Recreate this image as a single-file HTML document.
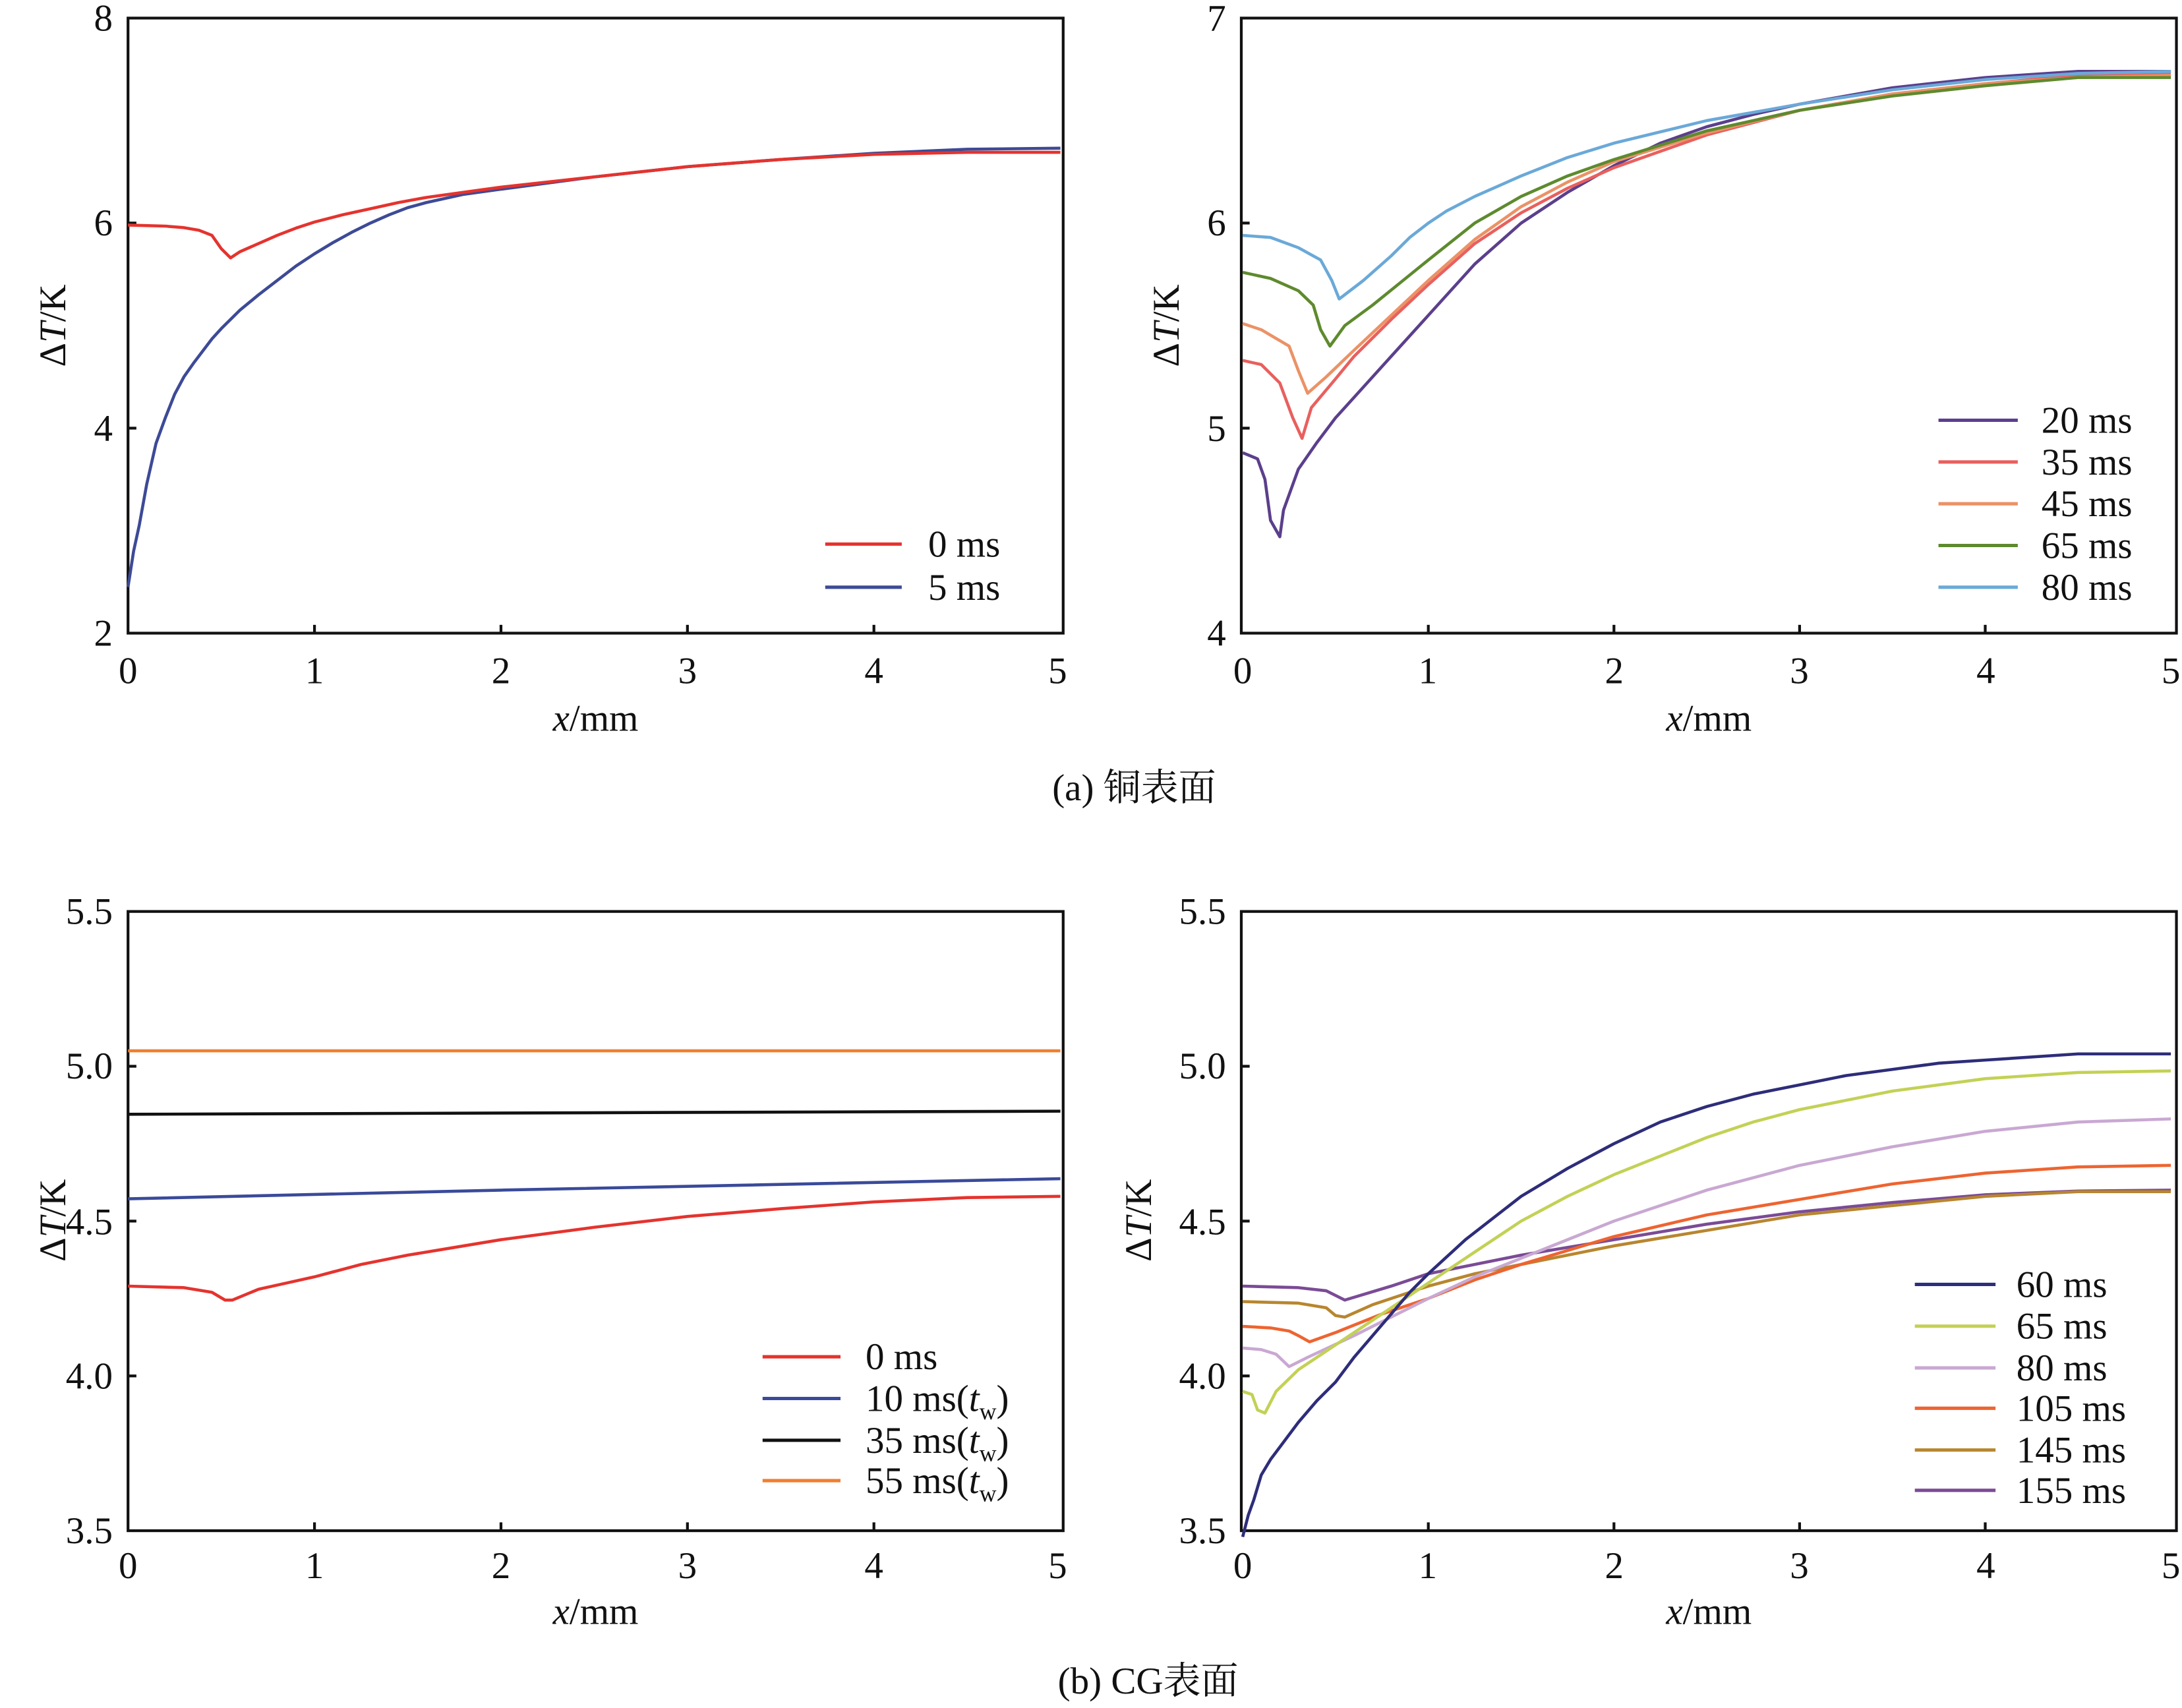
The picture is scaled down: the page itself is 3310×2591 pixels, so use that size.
<!DOCTYPE html>
<html><head><meta charset="utf-8"><style>
html,body{margin:0;padding:0;background:#fff;}
svg{display:block;}
text{font-family:"Liberation Serif","Noto Serif CJK SC","Noto Sans CJK SC",serif;fill:#111;}
.c{fill:none;stroke-width:4.6;vector-effect:non-scaling-stroke;stroke-linejoin:round;}
</style></head><body>
<svg width="3310" height="2591" viewBox="0 0 1568 1227.4" xmlns="http://www.w3.org/2000/svg">
<rect width="1568" height="1227.4" fill="#fff"/>
<g stroke="#111" stroke-width="2" fill="none">
<rect x="92" y="13" width="672" height="442"/>
<rect x="892" y="13" width="672" height="442"/>
<rect x="92" y="655" width="672" height="445"/>
<rect x="892" y="655" width="672" height="445"/>
<path d="M226 455v-6M360 455v-6M494 455v-6M628 455v-6M92 160.3h6M92 307.7h6"/>
<path d="M1026.4 455v-6M1159.8 455v-6M1293.2 455v-6M1426.6 455v-6M892 307.7h6M892 160.3h6"/>
<path d="M226 1100v-6M360 1100v-6M494 1100v-6M628 1100v-6M92 766.25h6M92 877.5h6M92 988.75h6"/>
<path d="M1026.4 1100v-6M1159.8 1100v-6M1293.2 1100v-6M1426.6 1100v-6M892 766.25h6M892 877.5h6M892 988.75h6"/>
</g>
<g font-size="27" text-anchor="middle">
<text x="92" y="491">0</text><text x="226" y="491">1</text><text x="360" y="491">2</text><text x="494" y="491">3</text><text x="628" y="491">4</text><text x="760" y="491">5</text>
<text x="893" y="491">0</text><text x="1026" y="491">1</text><text x="1160" y="491">2</text><text x="1293" y="491">3</text><text x="1427" y="491">4</text><text x="1560" y="491">5</text>
<text x="92" y="1134">0</text><text x="226" y="1134">1</text><text x="360" y="1134">2</text><text x="494" y="1134">3</text><text x="628" y="1134">4</text><text x="760" y="1134">5</text>
<text x="893" y="1134">0</text><text x="1026" y="1134">1</text><text x="1160" y="1134">2</text><text x="1293" y="1134">3</text><text x="1427" y="1134">4</text><text x="1560" y="1134">5</text>
</g>
<g font-size="27" text-anchor="end">
<text x="81" y="22">8</text><text x="81" y="169">6</text><text x="81" y="317">4</text><text x="81" y="464">2</text>
<text x="881" y="22">7</text><text x="881" y="169">6</text><text x="881" y="317">5</text><text x="881" y="464">4</text>
<text x="81" y="664">5.5</text><text x="81" y="775">5.0</text><text x="81" y="887">4.5</text><text x="81" y="998">4.0</text><text x="81" y="1109">3.5</text>
<text x="881" y="664">5.5</text><text x="881" y="775">5.0</text><text x="881" y="887">4.5</text><text x="881" y="998">4.0</text><text x="881" y="1109">3.5</text>
</g>
<g font-size="27" text-anchor="middle">
<text x="428" y="525"><tspan font-style="italic">x</tspan>/mm</text>
<text x="1228" y="525"><tspan font-style="italic">x</tspan>/mm</text>
<text x="428" y="1167"><tspan font-style="italic">x</tspan>/mm</text>
<text x="1228" y="1167"><tspan font-style="italic">x</tspan>/mm</text>
<text transform="translate(47 234) rotate(-90)">Δ<tspan font-style="italic">T</tspan>/K</text>
<text transform="translate(847 234) rotate(-90)">Δ<tspan font-style="italic">T</tspan>/K</text>
<text transform="translate(47 877) rotate(-90)">Δ<tspan font-style="italic">T</tspan>/K</text>
<text transform="translate(827 877) rotate(-90)">Δ<tspan font-style="italic">T</tspan>/K</text>
<text x="815" y="575">(a) 铜表面</text>
<text x="825" y="1217">(b) CG表面</text>
</g>
<g transform="matrix(134 0 0 -73.67 92 602.3)">
<polyline class="c" stroke="#3d4a96" points="0,2.45 0.03,2.8 0.06,3.05 0.1,3.45 0.15,3.85 0.2,4.1 0.25,4.33 0.3,4.5 0.35,4.63 0.4,4.75 0.45,4.87 0.5,4.97 0.6,5.15 0.7,5.3 0.8,5.44 0.9,5.58 1,5.7 1.1,5.81 1.2,5.91 1.3,6.0 1.4,6.08 1.5,6.15 1.6,6.2 1.7,6.24 1.8,6.28 2,6.33 2.25,6.39 2.5,6.45 2.75,6.5 3,6.55 3.5,6.62 4,6.68 4.5,6.72 5,6.73"/>
<polyline class="c" stroke="#e5332e" points="0,5.98 0.2,5.97 0.3,5.955 0.38,5.93 0.45,5.88 0.5,5.75 0.55,5.66 0.6,5.72 0.7,5.8 0.8,5.88 0.9,5.95 1,6.01 1.15,6.08 1.3,6.14 1.45,6.2 1.6,6.25 1.8,6.3 2,6.35 2.5,6.45 3,6.55 3.5,6.62 4,6.67 4.5,6.69 5,6.69"/>
</g>
<g transform="matrix(133.4 0 0 -147.33 893 1044.3)">
<polyline class="c" stroke="#5b3f8c" points="0,4.88 0.08,4.85 0.12,4.75 0.15,4.55 0.2,4.47 0.22,4.6 0.3,4.8 0.4,4.93 0.5,5.05 0.65,5.2 0.8,5.35 1,5.55 1.25,5.8 1.5,6.0 1.75,6.15 2,6.28 2.25,6.39 2.5,6.47 2.75,6.53 3,6.58 3.5,6.66 4,6.71 4.5,6.74 5,6.74"/>
<polyline class="c" stroke="#e8605e" points="0,5.33 0.1,5.31 0.2,5.22 0.27,5.05 0.32,4.95 0.37,5.1 0.5,5.24 0.6,5.35 0.8,5.53 1,5.7 1.25,5.9 1.5,6.05 1.75,6.17 2,6.27 2.5,6.43 3,6.55 3.5,6.63 4,6.68 4.5,6.72 5,6.73"/>
<polyline class="c" stroke="#eb9266" points="0,5.51 0.1,5.48 0.25,5.4 0.3,5.28 0.35,5.17 0.45,5.25 0.6,5.38 0.8,5.55 1,5.72 1.25,5.92 1.5,6.08 1.75,6.2 2,6.3 2.5,6.44 3,6.55 3.5,6.63 4,6.68 4.5,6.71 5,6.72"/>
<polyline class="c" stroke="#5e8a2e" points="0,5.76 0.15,5.73 0.3,5.67 0.38,5.6 0.42,5.48 0.47,5.4 0.55,5.5 0.7,5.6 0.85,5.71 1,5.82 1.25,6.0 1.5,6.13 1.75,6.23 2,6.31 2.5,6.45 3,6.55 3.5,6.62 4,6.67 4.5,6.71 5,6.71"/>
<polyline class="c" stroke="#6aa9d8" points="0,5.94 0.15,5.93 0.3,5.88 0.42,5.82 0.48,5.72 0.52,5.63 0.65,5.72 0.8,5.84 0.9,5.93 1,6.0 1.1,6.06 1.25,6.13 1.5,6.23 1.75,6.32 2,6.39 2.5,6.5 3,6.58 3.5,6.65 4,6.7 4.5,6.73 5,6.74"/>
</g>
<g transform="matrix(134 0 0 -222.5 92 1878.75)">
<polyline class="c" stroke="#f07f2e" points="0,5.05 5,5.05"/>
<polyline class="c" stroke="#111" points="0,4.845 5,4.855"/>
<polyline class="c" stroke="#3a4a9a" points="0,4.572 2,4.6 5,4.637"/>
<polyline class="c" stroke="#e5332e" points="0,4.29 0.3,4.285 0.45,4.27 0.52,4.245 0.56,4.245 0.7,4.28 0.85,4.3 1,4.32 1.25,4.36 1.5,4.39 1.75,4.415 2,4.44 2.5,4.48 3,4.515 3.5,4.54 4,4.562 4.5,4.576 5,4.58"/>
</g>
<g transform="matrix(133.4 0 0 -222.5 893 1878.75)">
<polyline class="c" stroke="#7b4b96" points="0,4.29 0.3,4.285 0.45,4.275 0.55,4.245 0.8,4.29 1,4.33 1.25,4.36 1.5,4.39 2,4.44 2.5,4.49 3,4.53 3.5,4.56 4,4.585 4.5,4.597 5,4.6"/>
<polyline class="c" stroke="#b8862f" points="0,4.24 0.3,4.235 0.45,4.22 0.5,4.195 0.55,4.19 0.7,4.23 1,4.29 1.25,4.33 1.5,4.36 2,4.42 2.5,4.47 3,4.52 3.5,4.55 4,4.58 4.5,4.595 5,4.595"/>
<polyline class="c" stroke="#ee6430" points="0,4.16 0.15,4.155 0.25,4.145 0.3,4.13 0.36,4.11 0.5,4.14 0.75,4.2 1,4.25 1.25,4.31 1.5,4.36 2,4.45 2.5,4.52 3,4.57 3.5,4.62 4,4.655 4.5,4.675 5,4.68"/>
<polyline class="c" stroke="#c9a8d2" points="0,4.09 0.1,4.085 0.18,4.07 0.25,4.03 0.35,4.06 0.6,4.13 0.8,4.19 1,4.25 1.25,4.32 1.5,4.38 1.75,4.44 2,4.5 2.5,4.6 3,4.68 3.5,4.74 4,4.79 4.5,4.82 5,4.83"/>
<polyline class="c" stroke="#c3d155" points="0,3.95 0.05,3.94 0.08,3.89 0.12,3.88 0.18,3.95 0.3,4.02 0.5,4.1 0.75,4.2 1,4.3 1.25,4.4 1.5,4.5 1.75,4.58 2,4.65 2.25,4.71 2.5,4.77 2.75,4.82 3,4.86 3.5,4.92 4,4.96 4.5,4.98 5,4.985"/>
<polyline class="c" stroke="#2e2d7a" points="0,3.48 0.03,3.55 0.06,3.6 0.1,3.68 0.15,3.73 0.2,3.77 0.3,3.85 0.4,3.92 0.5,3.98 0.6,4.06 0.7,4.13 0.8,4.2 0.9,4.27 1,4.33 1.2,4.44 1.5,4.58 1.75,4.67 2,4.75 2.25,4.82 2.5,4.87 2.75,4.91 3,4.94 3.25,4.97 3.5,4.99 3.75,5.01 4,5.02 4.5,5.04 5,5.04"/>
</g>
<g stroke-width="2.4" fill="none">
<path stroke="#e5332e" d="M593 391h55"/><path stroke="#3d4a96" d="M593 422h55"/>
<path stroke="#5b3f8c" d="M1393 302h57"/><path stroke="#e8605e" d="M1393 332h57"/><path stroke="#eb9266" d="M1393 362h57"/><path stroke="#5e8a2e" d="M1393 392h57"/><path stroke="#6aa9d8" d="M1393 422h57"/>
<path stroke="#e5332e" d="M548 975h56"/><path stroke="#3a4a9a" d="M548 1005h56"/><path stroke="#111" d="M548 1035h56"/><path stroke="#f07f2e" d="M548 1064h56"/>
<path stroke="#2e2d7a" d="M1376 923h58"/><path stroke="#c3d155" d="M1376 953h58"/><path stroke="#c9a8d2" d="M1376 983h58"/><path stroke="#ee6430" d="M1376 1012h58"/><path stroke="#b8862f" d="M1376 1042h58"/><path stroke="#7b4b96" d="M1376 1071h58"/>
</g>
<g font-size="27">
<text x="667" y="400">0 ms</text><text x="667" y="431">5 ms</text>
<text x="1467" y="311">20 ms</text><text x="1467" y="341">35 ms</text><text x="1467" y="371">45 ms</text><text x="1467" y="401">65 ms</text><text x="1467" y="431">80 ms</text>
<text x="622" y="984">0 ms</text>
<text x="622" y="1014">10 ms(<tspan font-style="italic">t</tspan><tspan font-size="17" dy="6">w</tspan><tspan dy="-6">)</tspan></text>
<text x="622" y="1044">35 ms(<tspan font-style="italic">t</tspan><tspan font-size="17" dy="6">w</tspan><tspan dy="-6">)</tspan></text>
<text x="622" y="1073">55 ms(<tspan font-style="italic">t</tspan><tspan font-size="17" dy="6">w</tspan><tspan dy="-6">)</tspan></text>
<text x="1449" y="932">60 ms</text><text x="1449" y="962">65 ms</text><text x="1449" y="992">80 ms</text><text x="1449" y="1021">105 ms</text><text x="1449" y="1051">145 ms</text><text x="1449" y="1080">155 ms</text>
</g>
</svg>
</body></html>
